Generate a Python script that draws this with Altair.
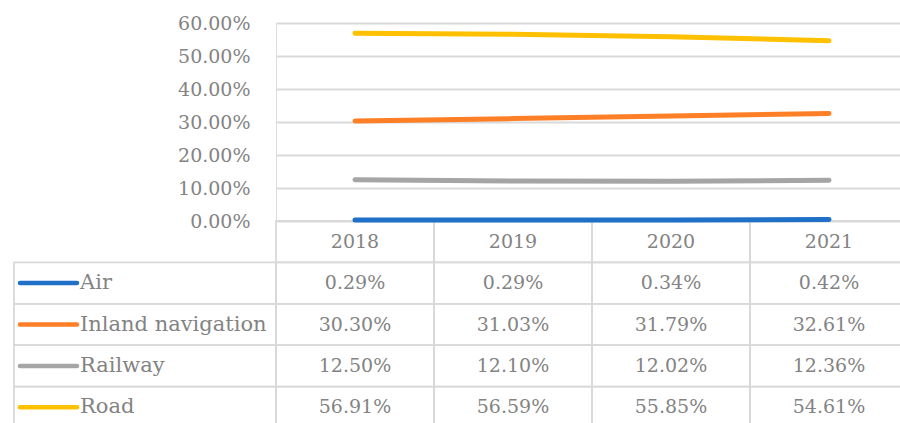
import altair as alt
import pandas as pd

years = ["2018", "2019", "2020", "2021"]
modes = ["Air", "Inland navigation", "Railway", "Road"]
air = [0.29, 0.29, 0.34, 0.42]
inland = [30.30, 31.03, 31.79, 32.61]
railway = [12.50, 12.10, 12.02, 12.36]
road = [56.91, 56.59, 55.85, 54.61]
colors = ["#1F70C8", "#FF7F27", "#A5A5A5", "#FFC000"]
y_ticks = [0, 0.1, 0.2, 0.3, 0.4, 0.5, 0.6]

series = {"Air": air, "Inland navigation": inland, "Railway": railway, "Road": road}

long_rows = []
for m in modes:
    for y, v in zip(years, series[m]):
        long_rows.append({"year": y, "mode": m, "value": v / 100.0, "label": f"{v:.2f}%"})
long = pd.DataFrame(long_rows)

cells = [{"year": y, "row": "header", "label": y} for y in years]
cells += [{"year": r["year"], "row": r["mode"], "label": r["label"]} for r in long_rows]
cells = pd.DataFrame(cells)

legend_df = pd.DataFrame({"row": modes, "mode": modes})
rows = ["header"] + modes

FONT = "DejaVu Serif"
TXT = "#838383"
GRID = "#d9d9d9"

xs = alt.Scale(type="band", domain=years, range=[0, 632], paddingInner=0, paddingOuter=0)
ys_tab = alt.Scale(type="band", domain=rows, range=[198, 405], paddingInner=0, paddingOuter=0)
cs = alt.Scale(domain=modes, range=colors)

cell_rects = alt.Chart(cells).mark_rect(fillOpacity=0, stroke=GRID, strokeWidth=1.8).encode(
    x=alt.X("year:O", scale=xs, axis=None),
    y=alt.Y("row:N", scale=ys_tab, axis=None),
)

legend_rects = alt.Chart(legend_df).mark_rect(fillOpacity=0, stroke=GRID, strokeWidth=1.8).encode(
    x=alt.value(-262), x2=alt.value(0),
    y=alt.Y("row:N", scale=ys_tab, axis=None),
)

cell_text = alt.Chart(cells).mark_text(font=FONT, fontSize=19, color=TXT, baseline="middle", align="center").encode(
    x=alt.X("year:O", scale=xs, axis=None, bandPosition=0.5),
    y=alt.Y("row:N", scale=ys_tab, axis=None, bandPosition=0.5),
    text="label:N",
)

legend_text = alt.Chart(legend_df).mark_text(font=FONT, fontSize=21, color=TXT, baseline="middle", align="left").encode(
    x=alt.value(-196),
    y=alt.Y("row:N", scale=ys_tab, axis=None, bandPosition=0.5),
    text="row:N",
)

legend_glyph = alt.Chart(legend_df).mark_rule(strokeWidth=4.5, strokeCap="round").encode(
    x=alt.value(-256), x2=alt.value(-199),
    y=alt.Y("row:N", scale=ys_tab, axis=None, bandPosition=0.5),
    color=alt.Color("mode:N", scale=cs, legend=None),
)

lines = alt.Chart(long).mark_line(strokeWidth=5, strokeCap="round").encode(
    x=alt.X("year:O", scale=xs, axis=None, bandPosition=0.5),
    y=alt.Y("value:Q", scale=alt.Scale(domain=[0, 0.6], nice=False, zero=True),
            axis=alt.Axis(values=y_ticks, format=".2%", title=None, ticks=False, domain=False,
                          labelFont=FONT, labelFontSize=19, labelColor=TXT, labelPadding=26,
                          gridColor=GRID, gridWidth=1.8, grid=True)),
    color=alt.Color("mode:N", scale=cs, legend=None),
)

chart = alt.layer(cell_rects, legend_rects, cell_text, legend_text, legend_glyph, lines).resolve_scale(
    y="independent"
).properties(
    width=624, height=198, autosize="none",
    padding={"left": 276, "top": 23, "right": 0, "bottom": 202},
).configure_view(stroke=None).configure(background="white")

chart.save("out.html", embed_options={"renderer": "svg", "actions": False})
